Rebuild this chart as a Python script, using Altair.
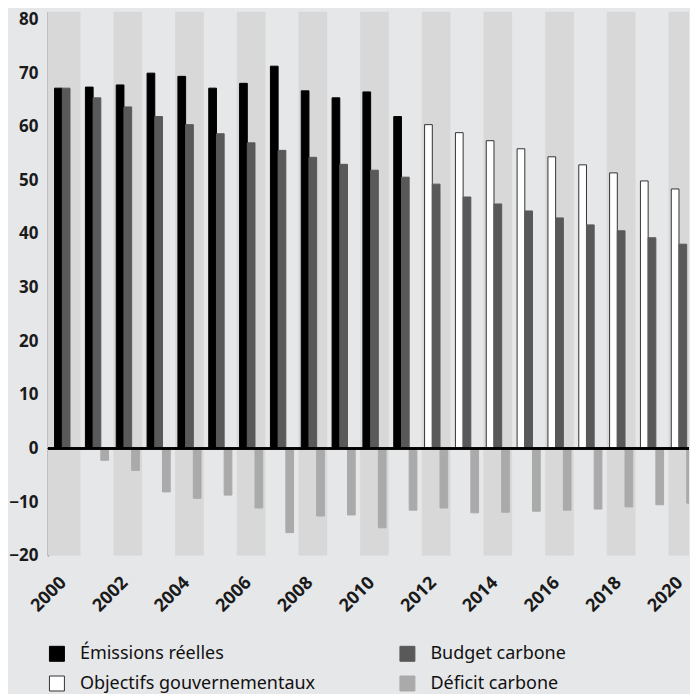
import altair as alt
import pandas as pd

# ---- data ----
years = list(range(2000, 2021))
emission_years = list(range(2000, 2012))
emissions = [67.2, 67.4, 67.8, 70.0, 69.4, 67.2, 68.1, 71.3, 66.7, 65.4, 66.5, 61.9]
target_years = list(range(2012, 2021))
targets = [60.4, 58.9, 57.4, 55.9, 54.4, 52.9, 51.4, 49.9, 48.4]
budget = [67.2, 65.4, 63.7, 61.9, 60.4, 58.7, 57.0, 55.6, 54.3, 53.0, 51.9,
          50.6, 49.3, 46.9, 45.6, 44.3, 43.0, 41.7, 40.6, 39.3, 38.1]
deficit = [0.2, -2.2, -4.1, -8.1, -9.3, -8.7, -11.1, -15.7, -12.6, -12.4, -14.8,
           -11.5, -11.1, -12.0, -11.9, -11.7, -11.5, -11.3, -10.9, -10.5, -10.2]
band_years = list(range(2000, 2021, 2))
y_ticks = [-20, -10, 0, 10, 20, 30, 40, 50, 60, 70, 80]

S_EM = "Émissions réelles"
S_OB = "Objectifs gouvernementaux"
S_BU = "Budget carbone"
S_DE = "Déficit carbone"

rows = []
for y, v in zip(emission_years, emissions):
    rows.append({"year": y, "series": S_EM, "value": v, "slot": 0})
for y, v in zip(target_years, targets):
    rows.append({"year": y, "series": S_OB, "value": v, "slot": 0})
for y, v in zip(years, budget):
    rows.append({"year": y, "series": S_BU, "value": v, "slot": 1})
for y, v in zip(years, deficit):
    rows.append({"year": y, "series": S_DE, "value": v, "slot": 2})
bars_df = pd.DataFrame(rows)
bands_df = pd.DataFrame({"year": band_years})

X_DOMAIN = [1999.41, 2020.2]
Y_DOMAIN = [-20, 81.5]
BAR_W = 0.25

legend_domain = [S_EM, S_OB, S_BU, S_DE]
fill_range = ["#000000", "#ffffff", "#595959", "#aaaaaa"]
stroke_range = ["#000000", "#333333", "#595959", "#aaaaaa"]

xscale = alt.Scale(domain=X_DOMAIN, nice=False, zero=False)
yscale = alt.Scale(domain=Y_DOMAIN, nice=False, zero=False)

x_axis = alt.Axis(values=band_years, format="d", labelAngle=-45, labelAlign="right",
                  labelBaseline="middle", labelPadding=24, labelOffset=-3, domain=False,
                  ticks=False, grid=False, title=None, labelFont="Noto Sans",
                  labelFontSize=18, labelFontWeight="bold", labelColor="#1a1a1a")
y_axis = alt.Axis(values=y_ticks, domain=True, domainColor="#666666", domainWidth=1.5,
                  ticks=False, grid=False, title=None, labelPadding=10,
                  labelFont="Noto Sans", labelFontSize=17, labelFontWeight="bold",
                  labelColor="#1a1a1a")

legend_cfg = dict(title=None, orient="none", legendX=0, legendY=634, columns=2,
                  columnPadding=82, rowPadding=10, symbolType="square",
                  symbolSize=225, symbolStrokeWidth=1, labelOffset=14,
                  labelFont="Noto Sans", labelFontSize=18, labelColor="#111111",
                  labelLimit=0, padding=0)

bands = alt.Chart(bands_df).mark_rect(color="#d8d8d8", clip=True).transform_calculate(
    x0="datum.year == 2000 ? 1999 : datum.year - 0.465",
    x1="datum.year + 0.465",
).encode(
    x=alt.X("x0:Q", scale=xscale, axis=x_axis),
    x2="x1:Q",
    y=alt.datum(Y_DOMAIN[0], scale=yscale, axis=y_axis),
    y2=alt.datum(Y_DOMAIN[1]),
)

bars = alt.Chart(bars_df).mark_rect(clip=True, strokeWidth=1).transform_calculate(
    x0=f"datum.year - 0.375 + datum.slot * {BAR_W}",
    x1=f"datum.year - 0.375 + (datum.slot + 1) * {BAR_W}",
).encode(
    x=alt.X("x0:Q", scale=xscale, axis=x_axis),
    x2="x1:Q",
    y=alt.Y("value:Q", scale=yscale, axis=y_axis),
    y2=alt.datum(0),
    fill=alt.Fill("series:N", scale=alt.Scale(domain=legend_domain, range=fill_range),
                  legend=alt.Legend(**legend_cfg)),
    stroke=alt.Stroke("series:N", scale=alt.Scale(domain=legend_domain, range=stroke_range),
                      legend=alt.Legend(**legend_cfg)),
)

zero = alt.Chart(bands_df).mark_rule(color="#000000", strokeWidth=1.5).encode(
    y=alt.datum(0)
)

chart = alt.layer(bands, bars, zero).properties(
    width=642, height=545, background="#e6e7e9",
    padding={"left": 0, "top": 2, "right": 0, "bottom": 0}
).configure_view(stroke=None)

chart.save("out.html", embed_options={"renderer": "svg", "actions": False})
